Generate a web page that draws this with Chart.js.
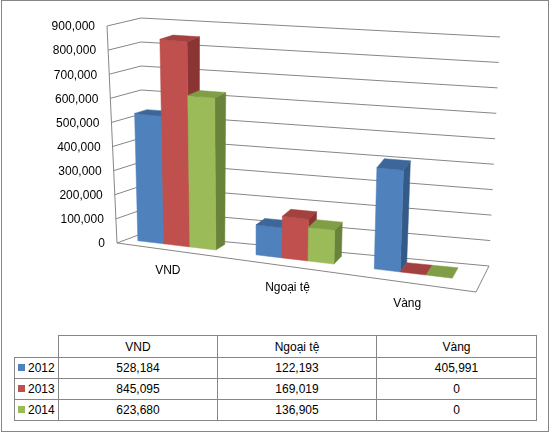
<!DOCTYPE html>
<html>
<head>
<meta charset="utf-8">
<script src="https://cdn.jsdelivr.net/npm/chart.js@4.4.0/dist/chart.umd.min.js"></script>
<style>
  html, body { margin: 0; padding: 0; background: #fff; }
  #frame {
    position: absolute; left: 1px; top: 0; width: 546px; height: 430px;
    border: 1px solid #868686; background: #fff;
  }
  #chart { position: absolute; left: -2px; top: -1px; }
  #tbl {
    position: absolute; left: 12px; top: 334px;
    border-collapse: collapse; table-layout: fixed;
    font-family: "Liberation Sans", Arial, sans-serif; font-size: 12px; color: #000;
  }
  #tbl td, #tbl th {
    border: 1px solid #868686; padding: 0; text-align: center; font-weight: normal;
  }
  #tbl th { height: 21px; }
  #tbl td { height: 20px; }
  #tbl th.blank { border-top: none; border-left: none; }
  #tbl td.key { text-align: left; white-space: nowrap; }
  #tbl td.key span {
    display: inline-block; width: 7px; height: 7px; margin: 0 3px 0 3px; vertical-align: 1px;
  }
</style>
</head>
<body>
<div id="frame">
  <canvas id="chart" width="550" height="320"></canvas>
  <table id="tbl"></table>
</div>
<script>
// data
const categories = ['VND', 'Ngoại tệ', 'Vàng'];
const years = ['2012', '2013', '2014'];
const values2012 = [528184, 122193, 405991];
const values2013 = [845095, 169019, 0];
const values2014 = [623680, 136905, 0];
const yTicks = [0, 100000, 200000, 300000, 400000, 500000, 600000, 700000, 800000, 900000];

const seriesValues = [values2012, values2013, values2014];
const frontColors = ['#4F81BD', '#C0504D', '#9BBB59'];
const topColors = ['#3D679A', '#A2413F', '#809E46'];
const sideColors = ['#345A88', '#8A3533', '#6A833A'];
const GRID = '#868686';
const FONT = '12px "Liberation Sans", Arial, sans-serif';

// corners of the 3D box (front plane d=0, back plane d=1)
const FRONT = { b0: [117, 243], t0: [107, 26], b1: [476, 292], t1: [487, 65] };
const BACK = { b0: [141, 234], t0: [141, 18], b1: [489, 266], t1: [500, 37] };
const U_SHIFT = -0.025;
const BAR_D0 = 0.4, BAR_D1 = 0.82;

function lerp(a, b, t) { return [a[0] + (b[0] - a[0]) * t, a[1] + (b[1] - a[1]) * t]; }

function proj(u, v, d) {
  const b0 = lerp(FRONT.b0, BACK.b0, d), t0 = lerp(FRONT.t0, BACK.t0, d);
  const b1 = lerp(FRONT.b1, BACK.b1, d), t1 = lerp(FRONT.t1, BACK.t1, d);
  const bot = lerp(b0, b1, u), top = lerp(t0, t1, u);
  return lerp(bot, top, v);
}

function poly(ctx, pts, color) {
  ctx.beginPath();
  ctx.moveTo(pts[0][0], pts[0][1]);
  for (let i = 1; i < pts.length; i++) ctx.lineTo(pts[i][0], pts[i][1]);
  ctx.closePath();
  ctx.fillStyle = color;
  ctx.fill();
  ctx.strokeStyle = color;
  ctx.lineWidth = 0.5;
  ctx.stroke();
}

function line(ctx, pts) {
  ctx.beginPath();
  ctx.moveTo(pts[0][0], pts[0][1]);
  for (let i = 1; i < pts.length; i++) ctx.lineTo(pts[i][0], pts[i][1]);
  ctx.stroke();
}

const box3d = {
  id: 'box3d',
  beforeDatasetsDraw() { return false; },
  afterDraw(chart) {
    const ctx = chart.ctx, area = chart.chartArea;
    const ys = chart.scales.y, xs = chart.scales.x;
    const vOf = val => (area.bottom - ys.getPixelForValue(val)) / (area.bottom - area.top);
    const uOf = px => (px - area.left) / (area.right - area.left) + U_SHIFT;

    ctx.save();
    // walls and floor
    ctx.strokeStyle = GRID;
    ctx.lineWidth = 1;
    yTicks.forEach(t => {
      const v = vOf(t);
      line(ctx, [proj(0, v, 0), proj(0, v, 1), proj(1, v, 1)]);
    });
    line(ctx, [proj(0, 1, 0), proj(0, 0, 0), proj(1, 0, 0), proj(1, 0, 1)]);

    // bars, left to right
    categories.forEach((c, i) => {
      seriesValues.forEach((vals, j) => {
        const el = chart.getDatasetMeta(j).data[i];
        const u0 = uOf(el.x - el.width / 2), u1 = uOf(el.x + el.width / 2);
        const v = vOf(vals[i]);
        if (v > 0) {
          poly(ctx, [proj(u1, 0, BAR_D0), proj(u1, 0, BAR_D1), proj(u1, v, BAR_D1), proj(u1, v, BAR_D0)], sideColors[j]);
          poly(ctx, [proj(u0, 0, BAR_D0), proj(u1, 0, BAR_D0), proj(u1, v, BAR_D0), proj(u0, v, BAR_D0)], frontColors[j]);
        }
        poly(ctx, [proj(u0, v, BAR_D0), proj(u1, v, BAR_D0), proj(u1, v, BAR_D1), proj(u0, v, BAR_D1)], topColors[j]);
      });
    });

    // axis labels
    ctx.font = FONT;
    ctx.fillStyle = '#000';
    ctx.textBaseline = 'middle';
    ctx.textAlign = 'right';
    yTicks.forEach(t => {
      const p = proj(0, vOf(t), 0);
      ctx.fillText(t.toLocaleString('en-US'), p[0] - 12, p[1] + 1);
    });
    ctx.textAlign = 'center';
    categories.forEach((c, i) => {
      const p = proj(uOf(xs.getPixelForValue(i)), 0, 0);
      ctx.fillText(c, p[0], p[1] + 21);
    });
    ctx.restore();
  }
};

new Chart(document.getElementById('chart'), {
  type: 'bar',
  data: {
    labels: categories,
    datasets: years.map((y, j) => ({
      label: y,
      data: seriesValues[j],
      backgroundColor: frontColors[j],
      categoryPercentage: 0.66,
      barPercentage: 1.0
    }))
  },
  options: {
    responsive: false,
    animation: false,
    devicePixelRatio: 1,
    layout: { padding: 0 },
    plugins: { legend: { display: false }, tooltip: { enabled: false } },
    scales: {
      x: { display: false },
      y: { display: false, min: 0, max: 900000, ticks: { stepSize: 100000 } }
    }
  },
  plugins: [box3d]
});

// data table
const tbl = document.getElementById('tbl');
let html = '<colgroup><col style="width:44px"><col style="width:159px"><col style="width:159px"><col style="width:160px"></colgroup>';
html += '<tr><th class="blank"></th>' + categories.map(c => '<th>' + c + '</th>').join('') + '</tr>';
years.forEach((y, j) => {
  html += '<tr><td class="key"><span style="background:' + frontColors[j] + '"></span>' + y + '</td>';
  html += seriesValues[j].map(v => '<td>' + v.toLocaleString('en-US') + '</td>').join('') + '</tr>';
});
tbl.innerHTML = html;
</script>
</body>
</html>
